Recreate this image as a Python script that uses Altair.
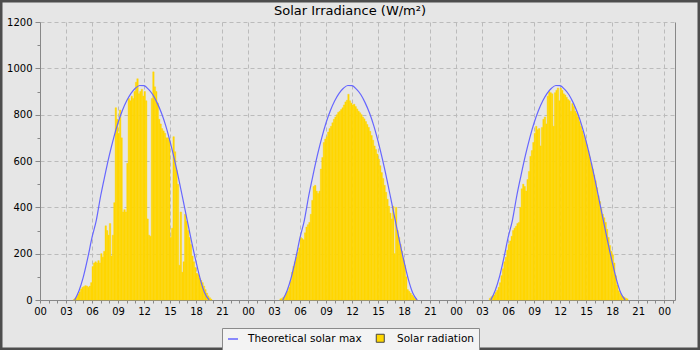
import altair as alt
import pandas as pd

# ---------------- data ----------------
# Solar radiation, 10-minute bins; first bin start (minutes after midnight) per day
day_start_min = [230, 220, 230]
step_min = 10

day1 = [
    3, 8, 15, 25, 35, 48, 55, 58, 62, 60, 55, 60, 75,
    145, 160, 165, 160, 170, 160,
    200, 185, 210, 320, 300, 280,
    330, 190, 280, 420, 830, 780,
    720, 820, 700, 380, 390, 380,
    590, 870, 860, 880, 870, 900,
    940, 955, 890, 900, 910, 880,
    900, 860, 350, 280, 275, 870,
    985, 920, 900, 850, 780, 760,
    740, 730, 720, 700, 700, 690,
    270, 310, 705, 640, 560, 500,
    150, 380, 120, 165, 370, 340,
    300, 270, 240, 190, 165, 140,
    115, 110, 95, 85, 75, 60,
    45, 30, 18, 10, 4,
]
day2 = [
    5, 7, 12, 18, 28, 38, 55, 80,
    120, 145, 165, 185, 205, 225,
    270, 265, 260, 290, 315, 325,
    335, 370, 430, 490, 495, 470,
    460, 470, 565, 615, 680, 695,
    705, 725, 740, 750, 765, 780,
    790, 800, 810, 815, 822, 830,
    842, 855, 862, 888, 860, 850,
    842, 845, 835, 825, 815, 808,
    800, 790, 782, 770, 758, 745,
    728, 710, 690, 665, 650, 630,
    608, 580, 550, 525, 495, 465,
    435, 405, 375, 350, 405, 200,
    400, 300, 270, 240, 210, 180,
    150, 100, 45, 38, 30, 22,
    15, 8, 4,
]
day3 = [
    8, 14, 18, 22, 32, 42, 55,
    75, 105, 135, 165, 185, 215,
    240, 255, 275, 300, 310, 318,
    330, 335, 400, 480, 500, 490,
    470, 520, 555, 620, 645, 680,
    720, 750, 735, 740, 665, 745,
    780, 790, 760, 880, 900, 895,
    890, 750, 895, 905, 915, 860,
    915, 905, 890, 885, 875, 865,
    860, 815, 848, 835, 815, 805,
    790, 770, 750, 730, 710, 690,
    670, 645, 618, 590, 565, 540,
    515, 485, 450, 425, 395, 370,
    355, 335, 305, 270, 235, 210,
    195, 160, 105, 65, 40, 28,
    20, 15, 12, 8, 5,
]

# Theoretical clear-sky maximum, every 30 minutes from 04:00 to 19:30
theo_start_min = 240
theo_step_min = 30
theo_profile = [0, 40, 100, 180, 270, 345, 450, 540, 625, 700, 765, 818, 860, 892,
                914, 926, 925, 910, 887, 852, 808, 753, 685, 608, 523, 432, 340,
                250, 165, 88, 30, 0]

chart_title = "Solar Irradiance (W/m²)"
x_tick_values = list(range(0, 74))
y_tick_values = list(range(0, 1300, 100))
series_names = ["Theoretical solar max", "Solar radiation"]
series_colors = ["#6666ff", "#ffd700"]

# ---------------- tables ----------------
rows = []
for d, (start, vals) in enumerate(zip(day_start_min, [day1, day2, day3])):
    for i, v in enumerate(vals):
        t0 = d * 24 + (start + i * step_min) / 60
        rows.append({"t0": t0, "t1": t0 + step_min / 60, "val": v, "series": series_names[1]})
bars_df = pd.DataFrame(rows)

trows = []
for d in range(3):
    for i, v in enumerate(theo_profile):
        trows.append({"t": d * 24 + (theo_start_min + i * theo_step_min) / 60,
                      "val": v, "day": d, "series": series_names[0]})
theo_df = pd.DataFrame(trows)

# ---------------- scales / axes ----------------
xscale = alt.Scale(domain=[0, 73.25], nice=False, zero=False, padding=0)
yscale = alt.Scale(domain=[0, 1200], nice=False, padding=0)

x_axis = alt.Axis(
    values=x_tick_values,
    labelExpr="datum.value % 3 === 0 ? ((datum.value % 24) < 10 ? '0' : '') + (datum.value % 24) : ''",
    title=None, tickSize=3, labelPadding=3, labelFlush=False, labelOverlap=False,
    grid=True,
    gridOpacity={"condition": {"test": "datum.value % 3 === 0", "value": 1}, "value": 0},
)
y_axis = alt.Axis(
    values=y_tick_values, format="d",
    labelExpr="datum.value % 200 === 0 ? datum.label : ''",
    title=None, labelPadding=3,
    tickSize={"condition": {"test": "datum.value % 200 === 0", "value": 5}, "value": 3},
    grid=True,
    gridOpacity={"condition": {"test": "datum.value % 200 === 0", "value": 1}, "value": 0},
)
y_axis_right = alt.Axis(orient="right", labels=False, ticks=False, grid=False, title=None,
                        domainColor="#888888")

bars = alt.Chart(bars_df).mark_rect(stroke="#ffd700", strokeWidth=0.4).encode(
    x=alt.X("t0:Q", scale=xscale, axis=x_axis),
    x2="t1:Q",
    y=alt.Y("val:Q", scale=yscale, axis=y_axis),
    y2=alt.datum(0),
    color=alt.Color("series:N",
                    scale=alt.Scale(domain=[series_names[1]], range=[series_colors[1]]),
                    legend=alt.Legend(title=None, orient="none", legendX=335, legendY=311,
                                      symbolType="square", symbolSize=64,
                                      symbolStrokeColor="#444444", symbolStrokeWidth=1,
                                      labelExpr="''", labelFontSize=10.5,
                                      padding=0, zindex=2)),
)

line = alt.Chart(theo_df).mark_line(strokeWidth=1.2, interpolate="monotone").encode(
    x=alt.X("t:Q", scale=xscale, axis=x_axis),
    y=alt.Y("val:Q", scale=yscale, axis=y_axis_right),
    detail="day:N",
    color=alt.Color("series:N",
                    scale=alt.Scale(domain=[series_names[0]], range=[series_colors[0]]),
                    legend=alt.Legend(title=series_names[1], titleOrient="right",
                                      titleFont="DejaVu Sans", titleFontSize=10.5,
                                      titleFontWeight="normal", titleColor="black",
                                      titlePadding=35, titleBaseline="middle",
                                      titleAnchor="middle",
                                      orient="none", legendX=182, legendY=306,
                                      symbolType="stroke", symbolSize=100, symbolStrokeWidth=1.5,
                                      labelFont="DejaVu Sans", labelFontSize=10.5,
                                      labelColor="black", labelOffset=9, labelLimit=500,
                                      fillColor="#f3f3f3", strokeColor="#8a8a8a", padding=5,
                                      zindex=1)),
)

frame = alt.Chart(alt.Data(values=[{"k": 1}])).mark_rect(
    fillOpacity=0, stroke="#4d4d4d", strokeWidth=5
).encode(
    x=alt.value(-40), x2=alt.value(660), y=alt.value(-22), y2=alt.value(328)
)

title_mark = alt.Chart(alt.Data(values=[{"title": chart_title}])).mark_text(
    font="DejaVu Sans", fontSize=13, fontWeight="normal", color="black",
    align="center", baseline="alphabetic"
).encode(
    text="title:N", x=alt.value(310), y=alt.value(-7)
)

chart = alt.layer(bars, line, frame, title_mark).resolve_scale(color="independent").resolve_axis(
    y="independent"
).properties(
    width=635, height=278,
    padding={"left": 40, "top": 22, "right": 25, "bottom": 50},
    autosize=alt.AutoSizeParams(type="none"),
).configure(
    background="#e6e6e6",
).configure_view(
    stroke="transparent",
).configure_axis(
    labelFont="DejaVu Sans", labelFontSize=10, labelColor="black",
    domainColor="#888888", tickColor="#888888",
    gridColor="#bbbbbb", gridDash=[4, 3], gridWidth=1,
)

chart.save("out.html", embed_options={"renderer": "svg", "actions": False})
